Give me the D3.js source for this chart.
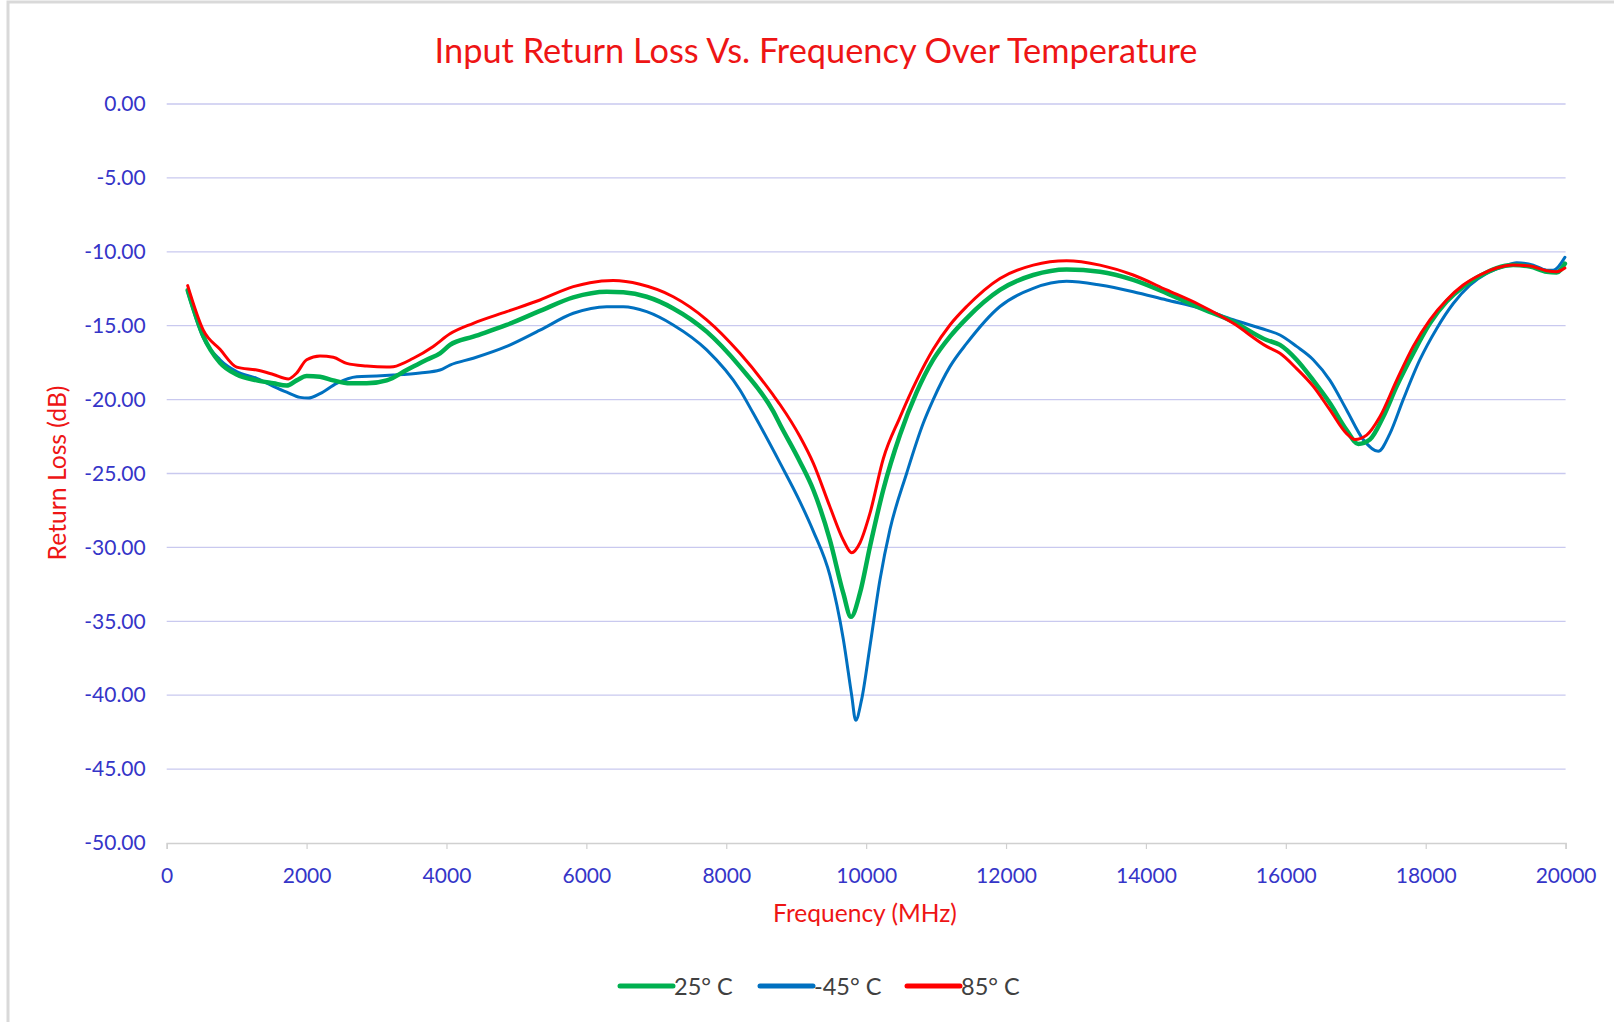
<!DOCTYPE html>
<html><head><meta charset="utf-8">
<script src="https://cdn.jsdelivr.net/npm/d3@7"></script>
<style>html,body{margin:0;padding:0;background:#fff;}svg{display:block;}</style>
</head><body>
<svg id="chart" width="1614" height="1022"></svg>
<script>
// ---- data ----
const chartTitle = "Input Return Loss Vs. Frequency Over Temperature";
const xTitle = "Frequency (MHz)";
const yTitle = "Return Loss (dB)";
const xTicks = [0,2000,4000,6000,8000,10000,12000,14000,16000,18000,20000];
const yTicks = [0,-5,-10,-15,-20,-25,-30,-35,-40,-45,-50];
const seriesNames = ["25° C","-45° C","85° C"];
const seriesColors = ["#00b050","#0070c0","#ff0000"];

const green25 = [[300,-12.6],[523,-15.7],[762,-17.5],[1000,-18.3],[1287,-18.7],[1525,-18.9],[1716,-19.05],[1858,-18.7],[2001,-18.4],[2192,-18.45],[2382,-18.7],[2620,-18.9],[2859,-18.9],[3145,-18.7],[3431,-18.0],[3717,-17.3],[3907,-16.87],[4050,-16.3],[4383,-15.74],[4860,-14.95],[5337,-14.0],[5813,-13.08],[6290,-12.7],[6528,-12.74],[6862,-13.04],[7242,-13.83],[7720,-15.4],[8196,-17.77],[8672,-20.8],[8770,-21.7],[9053,-24.2],[9244,-26.1],[9482,-29.5],[9673,-33.1],[9783,-34.7],[9911,-33.1],[10054,-29.95],[10245,-26.1],[10483,-22.4],[10722,-19.5],[10959,-17.3],[11198,-15.74],[11437,-14.5],[11913,-12.58],[12389,-11.57],[12866,-11.19],[13343,-11.35],[13818,-11.9],[14296,-12.8],[14772,-13.8],[15248,-14.73],[15725,-15.97],[15916,-16.3],[16154,-17.3],[16392,-18.7],[16631,-20.25],[16869,-22.06],[17035,-23.0],[17202,-22.7],[17393,-21.16],[17584,-19.1],[17821,-16.87],[18060,-14.84],[18299,-13.37],[18536,-12.36],[18774,-11.64],[19013,-11.1],[19250,-10.9],[19490,-11.0],[19728,-11.35],[19871,-11.4],[19990,-10.8]];

const blueMinus45 = [[300,-12.7],[523,-15.8],[762,-17.3],[1000,-18.1],[1287,-18.56],[1525,-19.1],[1716,-19.5],[1906,-19.85],[2025,-19.9],[2192,-19.6],[2430,-18.9],[2716,-18.45],[3002,-18.4],[3240,-18.34],[3621,-18.2],[3907,-18.0],[4050,-17.66],[4383,-17.2],[4860,-16.4],[5337,-15.3],[5813,-14.16],[6290,-13.71],[6528,-13.71],[6862,-14.05],[7242,-14.95],[7720,-16.64],[8196,-19.35],[8386,-20.93],[8770,-24.3],[9053,-26.9],[9244,-28.9],[9482,-31.9],[9673,-36.2],[9793,-40.0],[9850,-41.7],[9935,-40.3],[10054,-36.7],[10197,-32.2],[10340,-28.8],[10578,-25.0],[10816,-21.6],[10959,-20.0],[11198,-17.77],[11437,-16.2],[11913,-13.7],[12389,-12.47],[12866,-12.0],[13343,-12.25],[13818,-12.7],[14296,-13.26],[14772,-13.8],[15248,-14.6],[15725,-15.3],[15916,-15.63],[16154,-16.4],[16392,-17.3],[16631,-18.7],[16869,-20.7],[17106,-22.7],[17321,-23.5],[17488,-22.3],[17678,-20.0],[17917,-17.3],[18156,-15.2],[18394,-13.5],[18632,-12.25],[18870,-11.46],[19108,-11.0],[19300,-10.74],[19538,-10.9],[19728,-11.24],[19823,-11.24],[19990,-10.37]];

const red85 = [[300,-12.29],[523,-15.3],[762,-16.6],[1000,-17.8],[1287,-18.0],[1525,-18.3],[1740,-18.6],[1858,-18.2],[2001,-17.3],[2192,-17.05],[2382,-17.14],[2573,-17.55],[2859,-17.73],[3145,-17.8],[3240,-17.77],[3526,-17.2],[3811,-16.4],[4050,-15.55],[4383,-14.84],[4860,-14.05],[5337,-13.26],[5813,-12.36],[6051,-12.09],[6385,-11.95],[6766,-12.2],[7242,-13.04],[7720,-14.6],[8196,-16.87],[8672,-19.7],[8770,-20.35],[9053,-22.5],[9244,-24.3],[9482,-27.25],[9673,-29.5],[9793,-30.36],[9911,-29.7],[10054,-27.7],[10245,-24.0],[10483,-21.2],[10722,-18.7],[10959,-16.6],[11198,-14.95],[11437,-13.7],[11913,-11.8],[12389,-10.9],[12866,-10.6],[13343,-10.9],[13818,-11.57],[14296,-12.58],[14772,-13.6],[15248,-14.84],[15725,-16.4],[15916,-16.87],[16154,-17.9],[16392,-19.1],[16631,-20.7],[16869,-22.3],[16988,-22.7],[17155,-22.4],[17345,-21.16],[17584,-18.7],[17821,-16.4],[18060,-14.6],[18299,-13.26],[18536,-12.25],[18774,-11.57],[19013,-11.1],[19250,-10.9],[19490,-10.96],[19728,-11.28],[19871,-11.35],[19990,-11.1]];

const seriesData = [green25, blueMinus45, red85];

// ---- drawing ----
const FONT = "Lato, 'Open Sans', sans-serif";
const svg = d3.select("#chart");
const L = 166.7, R = 1565.6, T = 104, B = 843;
const x = d3.scaleLinear().domain([0,20000]).range([L,R]);
const y = d3.scaleLinear().domain([-50,0]).range([B,T]);

// chart border
svg.append("rect").attr("x",8).attr("y",2).attr("width",1640).attr("height",1040)
  .attr("fill","none").attr("stroke","#d9d9d9").attr("stroke-width",3);

function fit(sel, target){
  const w = sel.node().getComputedTextLength();
  const fs = parseFloat(sel.attr("font-size"));
  sel.attr("font-size", fs*target/w);
}

// gridlines
svg.append("g").selectAll("line").data(yTicks.filter(d=>d!==-50)).join("line")
  .attr("x1",L).attr("x2",R).attr("y1",d=>y(d)).attr("y2",d=>y(d))
  .attr("stroke","#c9c9ef").attr("stroke-width",1.3);

// x axis
const xAxis = svg.append("g").attr("transform",`translate(0,${B})`)
  .call(d3.axisBottom(x).tickValues(xTicks).tickSize(6).tickPadding(19).tickFormat(d3.format("d")));
xAxis.select(".domain").attr("stroke","#d0d0d0").attr("stroke-width",1.5);
xAxis.selectAll(".tick line").attr("stroke","#d0d0d0").attr("stroke-width",1.2);
xAxis.selectAll(".tick text").attr("fill","#3535c8").attr("font-family",FONT).attr("font-size",21);

// y axis labels
const fmtY = d => d3.format(".2f")(d).replace("\u2212","-");
const yAxis = svg.append("g").attr("transform",`translate(${L},0)`)
  .call(d3.axisLeft(y).tickValues(yTicks).tickSize(0).tickPadding(21).tickFormat(fmtY));
yAxis.select(".domain").remove();
yAxis.selectAll(".tick text").attr("fill","#3535c8").attr("font-family",FONT).attr("font-size",21);

// lines
const line = d3.line().x(d=>x(d[0])).y(d=>y(d[1])).curve(d3.curveMonotoneX);
const widths = [4.5,3,3];
const order = [1,0,2];
order.forEach(i=>{
  svg.append("path").datum(seriesData[i]).attr("d",line)
    .attr("fill","none").attr("stroke",seriesColors[i]).attr("stroke-width",widths[i])
    .attr("stroke-linejoin","round").attr("stroke-linecap","round");
});

// titles
const t = svg.append("text").attr("x",816).attr("y",63).attr("text-anchor","middle")
  .attr("fill","#ee1515").attr("font-family",FONT).attr("font-size",28).text(chartTitle);
fit(t,763);
const xt = svg.append("text").attr("x",865).attr("y",922).attr("text-anchor","middle")
  .attr("fill","#ee1515").attr("font-family",FONT).attr("font-size",21).text(xTitle);
fit(xt,184);
const yt = svg.append("text").attr("transform","translate(66,473) rotate(-90)").attr("text-anchor","middle")
  .attr("fill","#ee1515").attr("font-family",FONT).attr("font-size",20).text(yTitle);
fit(yt,175);

// legend
const legX = [620,760,907];
const lg = svg.append("g");
seriesNames.forEach((n,i)=>{
  lg.append("line").attr("x1",legX[i]).attr("x2",legX[i]+53).attr("y1",986).attr("y2",986)
    .attr("stroke",seriesColors[i]).attr("stroke-width",5).attr("stroke-linecap","round");
  lg.append("text").attr("x",legX[i]+54).attr("y",995).attr("fill","#404040")
    .attr("font-family",FONT).attr("font-size",23.5).text(n);
});
</script>
</body></html>
